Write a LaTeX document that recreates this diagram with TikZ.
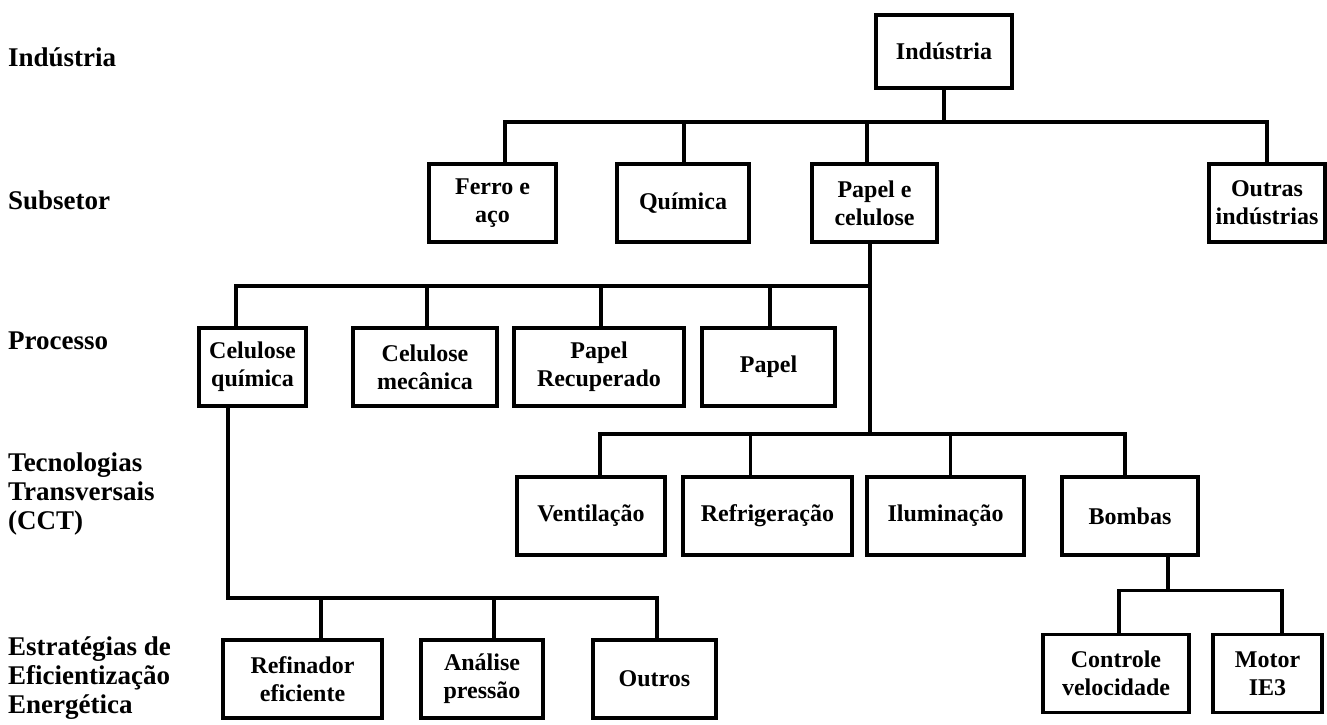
\documentclass[tikz,border=0pt]{standalone}
\usepackage{fontspec}
\setmainfont{Liberation Serif}
\usetikzlibrary{calc}

\newcommand{\boxfont}{\fontsize{24}{28}\selectfont\bfseries}
\newcommand{\lvlfont}{\fontsize{27}{29}\selectfont\bfseries}

\begin{document}
\begin{tikzpicture}[x=1pt, y=-1pt,
    box/.style={rectangle, draw, line width=3.2pt, fill=white, align=center,
                minimum height=78pt, inner sep=1pt, outer sep=0pt, font=\boxfont},
    lvl/.style={anchor=west, align=left, inner sep=0pt, font=\lvlfont},
    tree/.style={line width=3.2pt, line cap=rect}]

    \useasboundingbox (0,0) rectangle (1327,724);

    % level names
    \node[lvl] (lind) at (8,57) {Indústria};
    \node[lvl] (lsub) at (8,200) {Subsetor};
    \node[lvl] (lproc) at (8,341) {Processo};
    \node[lvl] (lcct) at (8,494) {Tecnologias\\Transversais\\(CCT)};
    \node[lvl] (lest) at (8,678) {Estratégias de\\Eficientização\\Energética};

    % industry and subsectors
    \node[box, minimum width=136pt, minimum height=73pt] (ind) at (944,51.5) {Indústria};
    \node[box, minimum width=127pt] (ferro) at (492.5,203) {Ferro e\\aço};
    \node[box, minimum width=132pt] (quim) at (683,203) {Química};
    \node[box, minimum width=125pt] (papcel) at (874.5,203) {Papel e\\celulose};
    \node[box, minimum width=116pt] (outras) at (1267,203) {Outras\\indústrias};

    % processes
    \node[box, minimum width=107pt] (celq) at (252.5,367) {Celulose\\química};
    \node[box, minimum width=144pt] (celm) at (425,367) {Celulose\\mecânica};
    \node[box, minimum width=170pt] (papr) at (599,367) {Papel\\Recuperado};
    \node[box, minimum width=133pt] (papel) at (768.5,367) {Papel};

    % cross-cutting technologies
    \node[box, minimum width=148pt] (vent) at (591,516) {Ventilação};
    \node[box, minimum width=169pt] (refr) at (767.5,516) {Refrigeração};
    \node[box, minimum width=157pt] (ilum) at (945.5,516) {Iluminação};
    \node[box, minimum width=136pt] (bomb) at (1130,516) {Bombas};

    % efficiency strategies
    \node[box, minimum width=159pt] (refin) at (302.5,679) {Refinador\\eficiente};
    \node[box, minimum width=122pt] (anal) at (482,679) {Análise\\pressão};
    \node[box, minimum width=123pt] (outros) at (654.5,679) {Outros};
    \node[box, minimum width=146pt] (ctrl) at (1116,673.5) {Controle\\velocidade};
    \node[box, minimum width=109pt] (motor) at (1267.5,673.5) {Motor\\IE3};

    % industry -> subsectors
    \draw[tree] (ind.south) -- ++(0,34);
    \draw[tree] ($(ferro.north)+(12.5,-42)$) -- ($(outras.north)+(0,-42)$);
    \foreach \n/\dx in {ferro/12.5, quim/1, papcel/-7.5, outras/0}
        \draw[tree] ([xshift=\dx pt]\n.north) -- ++(0,-42);

    % pulp and paper -> processes and technologies
    \draw[tree] ([xshift=-4.5pt]papcel.south) -- ++(0,192);
    \draw[tree] ($(celq.north)+(-16.5,-42)$) -- ($(papcel.south)+(-4.5,44)$);
    \foreach \n/\dx in {celq/-16.5, celm/2, papr/2, papel/1.5}
        \draw[tree] ([xshift=\dx pt]\n.north) -- ++(0,-42);

    \draw[tree] ($(vent.north)+(9,-43)$) -- ($(bomb.north)+(-5,-43)$);
    \foreach \n/\dx in {vent/9, refr/-17, ilum/5, bomb/-5}
        \draw[tree] ([xshift=\dx pt]\n.north) -- ++(0,-43);

    % chemical pulp -> strategies
    \draw[tree] ([xshift=-24.5pt]celq.south) -- ++(0,192) -- ($(outros.north)+(2.5,-42)$);
    \foreach \n/\dx in {refin/18.5, anal/12, outros/2.5}
        \draw[tree] ([xshift=\dx pt]\n.north) -- ++(0,-42);

    % pumps -> strategies
    \draw[tree] ([xshift=38pt]bomb.south) -- ++(0,34.5);
    \draw[tree] ($(ctrl.north)+(3,-44)$) -- ($(motor.north)+(14.5,-44)$);
    \foreach \n/\dx in {ctrl/3, motor/14.5}
        \draw[tree] ([xshift=\dx pt]\n.north) -- ++(0,-44);
\end{tikzpicture}
\end{document}
